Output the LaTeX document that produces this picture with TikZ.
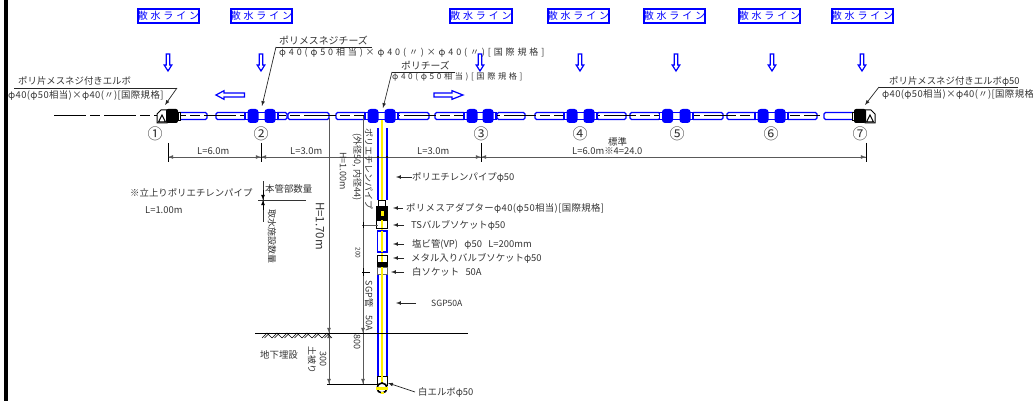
\documentclass[tikz,border=0pt]{standalone}
\usepackage{fontspec}
\newfontfamily\jp{Noto Sans CJK JP}
\newfontfamily\jpbox[LetterSpace=28]{Noto Sans CJK JP}
\newfontfamily\jpwide[LetterSpace=32]{Noto Sans CJK JP}
\newfontfamily\jpsub[LetterSpace=4]{Noto Sans CJK JP}
\usetikzlibrary{calc,arrows,positioning}

\begin{document}
\begin{tikzpicture}
  [>=latex,x=1pt,y=-1pt]

\useasboundingbox (0,0) rectangle (1033,401);

% define styles
\tikzstyle{lineBox} = [draw=blue, line width=2pt, fill=white, inner sep=0, minimum width=60pt, minimum height=14pt, text=blue, font=\jpbox\fontsize{10}{10}\selectfont];
\tikzstyle{pipe} = [draw=blue, line width=1.3pt, fill=white, rounded corners=1.5pt];
\tikzstyle{flow} = [draw=blue, line width=1.2pt, fill=white];
\tikzstyle{lbl} = [inner sep=0, anchor=west, text=black!80, font=\jp\fontsize{9.4}{10}\selectfont];
\tikzstyle{lblSub} = [lbl, font=\jpsub\fontsize{9.4}{10}\selectfont];
\tikzstyle{lblWide} = [lbl, font=\jpwide\fontsize{9}{10}\selectfont];
\tikzstyle{vert} = [inner sep=0, rotate=-90, text=black!80, font=\jp\fontsize{9}{10}\selectfont];
\tikzstyle{dim} = [draw=black!65, line width=0.8pt];
\tikzstyle{ticks} = [draw=black, line width=0.8pt];
\tikzstyle{leader} = [draw=black!85, line width=0.7pt, ->];

% define new commands
\newcommand{\pipeSeg}[2]{
  \draw [pipe] (#1,112.5) rectangle (#2,119.5);
}

\newcommand{\dropArrow}[1]{
  \draw [flow] (#1-1.7,54) -- (#1+1.7,54) -- (#1+1.7,65) -- (#1+3.8,65) -- (#1,71) -- (#1-3.8,65) -- (#1-1.7,65) -- cycle;
}

\newcommand{\blobTee}[2]{
  \draw [pipe, rounded corners=0] (#1-8,112.5) rectangle (#2+8,119.5);
  \fill [blue, rounded corners=3pt] (#1-5.5,109) rectangle (#1+5.5,123);
  \fill [blue, rounded corners=3pt] (#2-5.5,109) rectangle (#2+5.5,123);
}

\newcommand{\capElbow}[2]{
  \begin{scope}[shift={(#1,116)},xscale=#2]
    \draw [black, line width=1pt, fill=white] (-11,7) -- (-11,-2) -- (-7,-6) -- (-1,-6) -- (-1,7) -- cycle;
    \draw [black, line width=1pt, fill=white] (-9.5,6) -- (-6,-1) -- (-2.5,6) -- cycle;
    \fill [black, rounded corners=2pt] (-2,-7) rectangle (10,7);
    \draw [black, line width=0.8pt, fill=white] (10,-4) rectangle (12,4);
  \end{scope}
}

% pipes along the main line
\foreach \a/\b in {178/207,216/246,276/287,288/329,336/366,398/429,435/465,497/525,535/565,597/626,630/660,692/723,727/757,787/817,824/855}{
  \pipeSeg{\a}{\b}
}

% center line
\draw [black, line width=1pt, dash pattern=on 32pt off 4pt on 10pt off 4pt] (54,116) -- (820,116);

% blue tees
\foreach \a/\b in {253/270,373/390,472/488,572/589,667.5/685,763/780}{
  \blobTee{\a}{\b}
}

% end elbows
\capElbow{168}{1}
\capElbow{864}{-1}

% riser
\draw [yellow, line width=2.2pt] (382,120) -- (382,385);
\draw [blue, line width=1.2pt] (378,128) -- (378,200) (387,128) -- (387,200);
\draw [black, line width=1pt, fill=white] (378.5,200.5) rectangle (385.5,207);
\fill [black] (376,206) rectangle (388,220);
\fill [yellow] (380.5,211) rectangle (383.5,216);
\draw [black, line width=1pt, fill=white] (376.5,220) rectangle (387.5,228.5);
\draw [yellow, line width=2.2pt] (382,220) -- (382,228);
\draw [blue, line width=1.2pt, fill=white] (377.5,231) rectangle (387,252);
\draw [yellow, line width=2.2pt] (382,231) -- (382,252);
\draw [black, line width=1pt, fill=white] (377,255.5) rectangle (387.5,262);
\draw [yellow, line width=2.2pt] (382,256) -- (382,262);
\fill [black] (376.5,262) rectangle (388,267);
\draw [black!60, line width=0.8pt] (377.5,267) rectangle (387,274);
\draw [yellow, line width=2.2pt] (382,267) -- (382,275);
\draw [blue, line width=1.2pt] (378,275) -- (378,376) (387,275) -- (387,376);
\draw [black, line width=1pt, fill=white] (377,376) rectangle (387.5,385);
\draw [yellow, line width=2.2pt] (382,376) -- (382,384);
\draw [black, line width=1.6pt, fill=white] (382,388) circle (5);
\fill [yellow] (376,386.5) rectangle (388,389.5);
\fill [yellow] (380.5,392) rectangle (383.5,394);

% flow arrows
\draw [flow] (216,95) -- (224,90.7) -- (224,93) -- (244.5,93) -- (244.5,97) -- (224,97) -- (224,99.3) -- cycle;
\draw [flow] (463,95) -- (452,90.7) -- (452,93) -- (434,93) -- (434,97) -- (452,97) -- (452,99.3) -- cycle;

% draw line boxes and arrows
\foreach \x/\n/\ax in {168.5/1/168,261.5/2/261,481/3/480,578.5/4/580,674.5/5/676,769.5/6/772,862.5/7/862}{
  \node [lineBox] (line\n) at (\x,16) {散水ライン};
  \dropArrow{\ax}
}

% circled numbers
\foreach \x/\n/\c in {155/1/①,261/2/②,481/3/③,580/4/④,677/5/⑤,771/6/⑥,860/7/⑦}
  \node [inner sep=0, text=black!80, font=\jp\fontsize{15}{15}\selectfont] (num\n) at (\x,134) {\c};

% dimension line
\draw [dim] (168,157) -- (866,157);
\foreach \x in {168,261,481,866}
  \draw [ticks] (\x,143) -- (\x,162);
\draw [dim, ->] (190,157) -- (168,157);
\draw [dim, ->] (240,157) -- (261,157);
\draw [dim, ->] (283,157) -- (261,157);
\draw [dim, ->] (460,157) -- (481,157);
\draw [dim, ->] (503,157) -- (481,157);
\draw [dim, ->] (845,157) -- (866,157);
\fill [black] (378,157) circle (1.2) (387,157) circle (1.2);
\node [lbl] (lenA) at (197,151) {L=6.0m};
\node [lbl] (lenB) at (290,151) {L=3.0m};
\node [lbl] (lenC) at (417,151) {L=3.0m};
\node [lbl] (lenStd) at (608,142) {標準};
\node [lbl] (lenD) at (572,151) {L=6.0m※4=24.0};

% height lines
\draw [dim] (329,118) -- (329,384);
\draw [dim] (363,116) -- (363,384);
\draw [dim, ->] (329,310) -- (329,333);
\draw [dim, ->] (329,360) -- (329,384);
\draw [dim, ->] (329,350) -- (329,333);
\draw [dim, ->] (363,360) -- (363,384);
\draw [dim, ->] (363,310) -- (363,333);
\draw [dim] (362,225) -- (378,225);
\draw [ticks] (362,272) -- (370,272);
\draw [ticks] (363,222) -- (363,228);
\draw [ticks] (363,268) -- (363,276);

% ground
\draw [black, line width=1pt] (255,333) -- (468,333);
\draw [black, line width=1pt] (327,384) -- (378,384);
\foreach \x in {262,272,...,322}{
  \draw [black, line width=0.6pt] (\x,338) -- (\x+5,333) -- (\x+10,338);
  \draw [black, line width=0.6pt] (\x+2.5,338) -- (\x+7.5,333);
}

% quantity cross
\draw [black!80, line width=0.9pt] (258,200) -- (306,200);
\draw [black!80, line width=0.9pt] (263,181) -- (263,222);
\draw [ticks, ->] (263,190) -- (263,200);
\draw [ticks, ->] (263,210) -- (263,200);

% top labels
\node [lbl] (elbowL) at (18,81) {ポリ片メスネジ付きエルボ};
\node [lblSub] (elbowLSub) at (8,95) {φ40(φ50相当)×φ40(〃)[国際規格]};
\coordinate (elbowLEnd) at (177,88);
\draw [black!85, line width=0.7pt] (14,88) -- (elbowLEnd);
\draw [leader] (elbowLEnd) -- (165,105);

\node [lbl, font=\jp\fontsize{9.9}{10}\selectfont] (teeA) at (279,41) {ポリメスネジチーズ};
\node [lblWide] (teeASub) at (279,53) {φ40(φ50相当)×φ40(〃)×φ40(〃)[国際規格]};
\coordinate (teeAEnd) at (276,47);
\draw [black!85, line width=0.7pt] (teeAEnd) -- (372,47);
\draw [leader] (teeAEnd) -- (262,106);

\node [lbl, font=\jp\fontsize{9.8}{10}\selectfont] (teeB) at (401,66) {ポリチーズ};
\node [lblWide, font=\jpwide\fontsize{8.2}{10}\selectfont] (teeBSub) at (392,77) {φ40(φ50相当)[国際規格]};
\coordinate (teeBEnd) at (392,72);
\draw [black!85, line width=0.7pt] (teeBEnd) -- (455,72);
\draw [leader] (teeBEnd) -- (383,108);

\node [lbl] (elbowR) at (889,81) {ポリ片メスネジ付きエルボφ50};
\node [lblSub] (elbowRSub) at (882,94) {φ40(φ50相当)×φ40(〃)[国際規格};
\coordinate (elbowREnd) at (879,87);
\draw [black!85, line width=0.7pt] (elbowREnd) -- (1018,87);
\draw [leader] (elbowREnd) -- (865,105);

% part labels and leaders
\node [lbl] (partPipe) at (412,177) {ポリエチレンパイプφ50};
\node [lblSub] (partAdp) at (406,208) {ポリメスアダプターφ40(φ50相当)[国際規格]};
\node [lbl] (partTs) at (411,225) {TSバルブソケットφ50};
\node [lbl] (partVp) at (412,244) {塩ビ管(VP)\ \ \ φ50\ \ \ L=200mm};
\node [lbl] (partMetal) at (411,258) {メタル入りバルブソケットφ50};
\node [lbl] (partSock) at (412,272) {白ソケット\ \ \ 50A};
\node [lbl, font=\jp\fontsize{8.6}{10}\selectfont] (partSgp) at (431,303) {SGP50A};
\node [lbl] (partEnd) at (418,392) {白エルボφ50};

\draw [leader] (partPipe.west) -- (396,177);
\draw [leader] (403,208) -- (393,208);
\draw [leader] (404,225) -- (393,225);
\draw [leader] (404,244) -- (393,244);
\draw [leader] (404,258) -- (393,258);
\draw [leader] (404,272) -- (391,272);
\draw [leader] (416,303) -- (396,303);
\draw [leader] (415,392) -- (388,383);

% left labels
\node [lbl] (riserNote) at (130,193) {※立上りポリエチレンパイプ};
\node [lbl] (riserLen) at (145,210) {L=1.00m};
\node [lbl] (mainQty) at (265,189) {本管部数量};
\node [lbl] (buryNote) at (260,355) {地下埋設};

% rotated labels
\node [vert] (vPipe) at (369,169) {ポリエチレンパイプ};
\node [vert] (vDia) at (357,167) {(外径50, 内径44)};
\node [vert] (vH1) at (343,171) {H=1.00m};
\node [vert, font=\jp\fontsize{11.5}{12}\selectfont] (vH2) at (320,226) {H=1.70m};
\node [vert] (vQty) at (272,236) {取水施設数量};
\node [vert, font=\jp\fontsize{6.5}{7}\selectfont] (v200) at (358,253) {200};
\node [vert] (vSgp) at (369,294) {SGP管};
\node [vert] (v50a) at (369,323) {50A};
\node [vert] (v800) at (357,342) {800};
\node [vert] (v300) at (323,359) {300};
\node [vert] (vCover) at (312,360) {土被り};

% left bar
\fill [black] (4,0) rectangle (8,401);

\end{tikzpicture}
\end{document}
